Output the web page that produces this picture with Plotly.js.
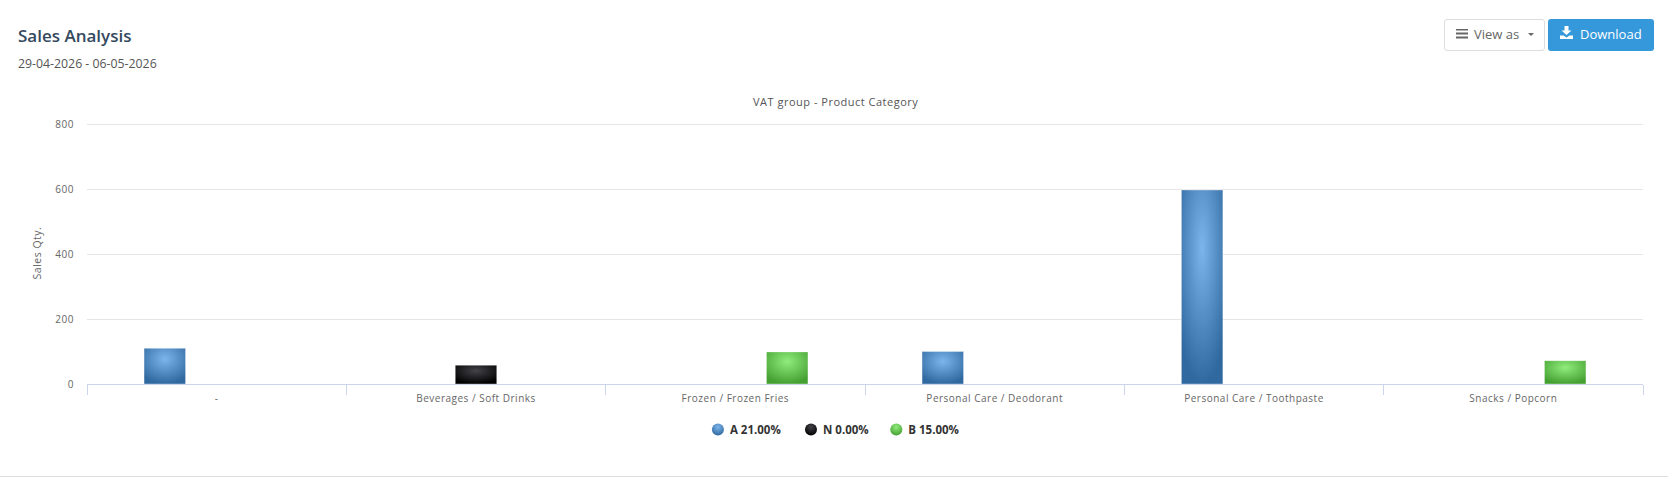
<!DOCTYPE html>
<html><head><meta charset="utf-8">
<script src="https://cdn.plot.ly/plotly-3.0.1.min.js"></script>
<style>
html,body{margin:0;padding:0;background:#fff;font-family:"Open Sans",sans-serif;overflow:hidden}
#wrap{position:relative;width:1668px;height:478px}
#chart{position:absolute;left:0;top:0;width:1668px;height:478px}
#chart .xtick text,#chart .ytick text,#chart .gtitle,#chart .ytitle{letter-spacing:.5px}
.abs{position:absolute;white-space:nowrap}
#h1{left:18px;top:24px;font-size:17px;font-weight:600;color:#34495e;line-height:24px}
#h2{left:18px;top:55px;font-size:12.3px;color:#555;line-height:18px}
.btn{top:19px;height:32px;box-sizing:border-box;border-radius:3px;font-size:13px;line-height:28px}
#view{left:1444px;width:101px;border:1px solid #ddd;color:#666;background:#fff;padding-left:29px}
#down{left:1548px;width:106px;background:#3498db;color:#fff;padding-left:32px;line-height:30px}
#bottom{left:0;top:476px;width:1668px;height:1px;background:#ddd}
</style></head><body>
<div id="wrap">
<div id="chart"></div>
<div class="abs" id="h1">Sales Analysis</div>
<div class="abs" id="h2">29-04-2026 - 06-05-2026</div>
<div class="abs btn" id="view">View as
  <svg style="position:absolute;left:11px;top:9px" width="12" height="10"><path d="M0 0.5H12M0 4.5H12M0 8.5H12" stroke="#666" stroke-width="2"/></svg>
  <svg style="position:absolute;left:83px;top:13px" width="7" height="4"><path d="M0 0H6L3 3Z" fill="#666"/></svg>
</div>
<div class="abs btn" id="down">Download
  <svg style="position:absolute;left:12px;top:7px" width="13" height="13"><path d="M4.5 0H8.5V4.5H11.5L6.5 9L1.5 4.5H4.5ZM0 9.5H3.5L6.5 11.5L9.5 9.5H13V13H0Z" fill="#fff"/></svg>
</div>
<div class="abs" id="bottom"></div>
</div>
<script>
var categories = ["-", "Beverages / Soft Drinks", "Frozen / Frozen Fries", "Personal Care / Deodorant", "Personal Care / Toothpaste", "Snacks / Popcorn"];
var seriesNames = ["A 21.00%", "N 0.00%", "B 15.00%"];
var seriesA = [110, null, null, 100, 598, null];
var seriesN = [null, 58, null, null, null, null];
var seriesB = [null, null, 99, null, null, 72];
var lightColors = ["#7cb5ec", "#434348", "#90ed7d"];
var darkColors = ["#3069a0", "#000000", "#44a131"];
var yTicks = [0, 200, 400, 600, 800];

var values = [seriesA, seriesN, seriesB];
var traces = [];
values.forEach(function (v, i) {
  traces.push({type: "bar", x: categories, y: v, name: seriesNames[i], showlegend: false,
    marker: {color: lightColors[i], line: {color: "#ffffff", width: 1}}, hoverinfo: "x+y+name"});
});
seriesNames.forEach(function (n, i) {
  traces.push({type: "scatter", mode: "markers", x: [null], y: [null], name: n,
    marker: {color: lightColors[i], size: 12, symbol: "circle"}});
});
var tickFont = {family: "Open Sans, sans-serif", size: 10, color: "#666666"};
var layout = {
  width: 1668, height: 478,
  margin: {l: 87, r: 25, t: 122, b: 93.5},
  paper_bgcolor: "rgba(0,0,0,0)", plot_bgcolor: "rgba(0,0,0,0)",
  showlegend: true,
  barmode: "group", bargap: 0.4, bargroupgap: 0.2,
  title: {text: "VAT group - Product Category", x: 0.501, xanchor: "center", y: 0.787, yanchor: "middle",
    font: {family: "Open Sans, sans-serif", size: 11, color: "#555555"}},
  xaxis: {type: "category", categoryorder: "array", categoryarray: categories, tickson: "boundaries",
    ticks: "outside", ticklen: 10, tickcolor: "#ccd6eb", tickwidth: 1,
    showline: true, linecolor: "#ccd6eb", linewidth: 1, showgrid: false, zeroline: false,
    tickfont: tickFont, fixedrange: true, tickangle: 0, ticklabelstandoff: 5},
  yaxis: {range: [0, 807.5], tickmode: "array", tickvals: yTicks, ticktext: yTicks.map(String),
    showgrid: true, gridcolor: "#e6e6e6", gridwidth: 1, zeroline: false, showline: false, ticks: "",
    tickfont: tickFont, fixedrange: true, ticklabelstandoff: 12,
    title: {text: "Sales Qty.", standoff: 13, font: {family: "Open Sans, sans-serif", size: 10.5, color: "#666666"}}},
  legend: {orientation: "h", x: 0.5, xanchor: "center", xref: "paper", y: -0.118, yanchor: "top",
    itemclick: false, itemdoubleclick: false, itemwidth: 30,
    font: {family: "Open Sans, sans-serif", size: 11.5, color: "#333333", weight: 700}}
};
Plotly.newPlot("chart", traces, layout, {displayModeBar: false, responsive: false}).then(function () {
  var gd = document.getElementById("chart");
  var svg = gd.querySelector("svg.main-svg");
  var NS = "http://www.w3.org/2000/svg";
  var defs = svg.querySelector("defs");
  lightColors.forEach(function (c, i) {
    var g = document.createElementNS(NS, "radialGradient");
    g.setAttribute("id", "hcgrad" + i);
    g.setAttribute("cx", "0.5"); g.setAttribute("cy", "0.3"); g.setAttribute("r", "0.7");
    [[0, c], [1, darkColors[i]]].forEach(function (s) {
      var st = document.createElementNS(NS, "stop");
      st.setAttribute("offset", s[0]); st.setAttribute("stop-color", s[1]);
      g.appendChild(st);
    });
    defs.appendChild(g);
  });
  gd.querySelectorAll(".barlayer .trace").forEach(function (t, i) {
    t.querySelectorAll("path").forEach(function (p) {
      p.style.fill = "url(#hcgrad" + i + ")";
      p.style.stroke = "rgba(255,255,255,0.35)";
    });
  });
  var legendShift = [-25.6, -28.4, -33.8];
  gd.querySelectorAll(".legend .traces").forEach(function (t, i) {
    t.querySelectorAll(".scatterpts").forEach(function (p) {
      p.style.fill = "url(#hcgrad" + i + ")";
      p.style.stroke = "none";
    });
    var m = /translate\(([-\d.]+),\s*([-\d.]+)\)/.exec(t.getAttribute("transform"));
    if (m) t.setAttribute("transform", "translate(" + (parseFloat(m[1]) + legendShift[i]) + "," + m[2] + ")");
    var txt = t.querySelector("text.legendtext");
    if (txt) txt.setAttribute("x", parseFloat(txt.getAttribute("x")) - 8);
  });
  var lg = gd.querySelector(".legend .bg");
  if (lg) lg.style.display = "none";
  var sc = gd.querySelector(".legend .scrollbox");
  if (sc) sc.removeAttribute("clip-path");
});
</script>
</body></html>
